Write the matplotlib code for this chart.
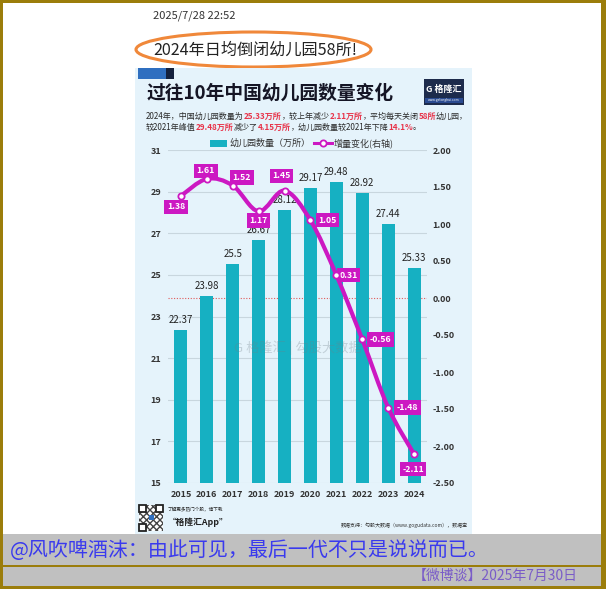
import matplotlib
matplotlib.use('Agg')
import matplotlib.pyplot as plt
from matplotlib.patches import Rectangle, Ellipse, PathPatch
from matplotlib.path import Path
from matplotlib.lines import Line2D
from matplotlib.transforms import blended_transform_factory
from matplotlib.offsetbox import TextArea, HPacker, AnnotationBbox

plt.rcParams['font.family'] = ['Noto Sans CJK SC', 'DejaVu Sans']

# ---------------- data ----------------
years = ['2015', '2016', '2017', '2018', '2019', '2020', '2021', '2022', '2023', '2024']
counts = [22.37, 23.98, 25.5, 26.67, 28.12, 29.17, 29.48, 28.92, 27.44, 25.33]
count_labels = ['22.37', '23.98', '25.5', '26.67', '28.12', '29.17', '29.48', '28.92', '27.44', '25.33']
changes = [1.38, 1.61, 1.52, 1.17, 1.45, 1.05, 0.31, -0.56, -1.48, -2.11]
change_labels = ['1.38', '1.61', '1.52', '1.17', '1.45', '1.05', '0.31', '-0.56', '-1.48', '-2.11']
left_ticks = [15, 17, 19, 21, 23, 25, 27, 29, 31]
right_ticks = [-2.5, -2.0, -1.5, -1.0, -0.5, 0.0, 0.5, 1.0, 1.5, 2.0]

legend_bar = '幼儿园数量（万所）'
legend_line = '增量变化(右轴)'
post_time = '2025/7/28 22:52'
headline = '2024年日均倒闭幼儿园58所!'
chart_title = '过往10年中国幼儿园数量变化'
sub_line1 = [('2024年，中国幼儿园数量为', 'k'), ('25.33万所', 'r'), ('，较上年减少', 'k'),
             ('2.11万所', 'r'), ('，平均每天关闭', 'k'), ('58所', 'r'), ('幼儿园，', 'k')]
sub_line2 = [('较2021年峰值', 'k'), ('29.48万所', 'r'), ('减少了', 'k'), ('4.15万所', 'r'),
             ('，幼儿园数量较2021年下降', 'k'), ('14.1%', 'r'), ('。', 'k')]
comment = '@风吹啤酒沫：由此可见，最后一代不只是说说而已。'
footer = '【微博谈】2025年7月30日'

# label offsets (pixels: dx right, dy down) for the line value boxes
label_offsets = [(-5, 11), (-1, -8), (9, -8), (0, 9), (-3, -15),
                 (17, 0), (12, 0), (18, 0), (19, 0), (-1, 15)]

# ---------------- styles ----------------
W, H = 606, 589
GOLD = '#9b7d0b'
TEAL = '#16b0c2'
MAG = '#cc18c2'
PANEL = '#e5f3fb'
RED = '#e8344a'

fig = plt.figure(figsize=(W / 100, H / 100), dpi=100)
bg = fig.add_axes([0, 0, 1, 1])
bg.set_xlim(0, W)
bg.set_ylim(H, 0)
bg.axis('off')
bg.set_zorder(0)

# frame
bg.add_patch(Rectangle((0, 0), W, H, color=GOLD, lw=0))
bg.add_patch(Rectangle((3, 3), 598, 531, color='white', lw=0))
bg.add_patch(Rectangle((3, 534), 598, 52, color='#c0c0c0', lw=0))
bg.add_patch(Rectangle((3, 565), 598, 1.8, color=GOLD, lw=0))

# header
bg.text(153, 16, post_time, fontsize=8, color='#333333', va='center', ha='left')
bg.add_patch(Ellipse((253.5, 49.5), 235, 35, fc='none', ec='#f0883a', lw=2.2))
bg.text(153, 50, headline, fontsize=11.6, color='#222222', va='center', ha='left')

# chart panel
bg.add_patch(Rectangle((135, 68), 337, 466, color=PANEL, lw=0))
bg.add_patch(Rectangle((138, 68), 28, 11, color='#2f6fc0', lw=0))
bg.add_patch(Rectangle((166, 68), 8, 11, color='#14213d', lw=0))
bg.text(147, 93, chart_title, fontsize=13.5, fontweight='bold', color='#151525', va='center', ha='left')

# logo
bg.add_patch(Rectangle((424, 79), 40, 26, color='#1d2b4c', lw=0))
bg.text(444, 89, 'G 格隆汇', fontsize=6.5, fontweight='bold', color='white', va='center', ha='center')
bg.add_patch(Rectangle((425, 98), 38, 5, color='#2a4a90', lw=0))
bg.text(444, 100.5, 'www.gelonghui.com', fontsize=2.4, color='white', va='center', ha='center')


def rich_line(parts, x, y, size):
    areas = []
    for t, c in parts:
        if c == 'r':
            props = dict(color=RED, fontsize=size, fontweight='bold')
        else:
            props = dict(color='#2a2a2a', fontsize=size)
        areas.append(TextArea(t, textprops=props))
    box = HPacker(children=areas, pad=0, sep=0, align='baseline')
    ab = AnnotationBbox(box, (x, y), xycoords=bg.transData, box_alignment=(0, 0.5),
                        frameon=False, pad=0)
    bg.add_artist(ab)


rich_line(sub_line1, 146, 116, 5.8)
rich_line(sub_line2, 146, 127, 5.8)

# legend
bg.add_patch(Rectangle((210, 139.5), 17, 7, color=TEAL, lw=0))
bg.text(229, 143, legend_bar, fontsize=6.5, color='#333333', va='center', ha='left')
bg.add_line(Line2D([314, 332], [143, 143], color=MAG, lw=2.2))
bg.add_line(Line2D([323], [143], marker='o', ms=4.5, mfc='white', mec=MAG, mew=1.3, color=MAG))
bg.text(334, 143, legend_line, fontsize=6.5, color='#333333', va='center', ha='left')

# bottom of panel
bg.add_patch(Rectangle((139, 505), 24, 26, fc='white', ec='#444444', hatch='xxxxx', lw=0))
for (qx, qy) in [(139, 505), (156, 505), (139, 524)]:
    bg.add_patch(Rectangle((qx, qy), 7, 7, fc='white', ec='#222222', lw=1.3))
bg.add_patch(Rectangle((148.5, 515), 5, 5, fc='#2f6fc0', lw=0))
bg.text(168, 510, '了解更多热门个股，请下载', fontsize=3.3, color='#222222', va='center', ha='left')
bg.text(168, 522, '“格隆汇App”', fontsize=6.3, fontweight='bold', style='italic', color='#222222',
        va='center', ha='left')
bg.text(468, 525, '数据支持：勾股大数据（www.gogudata.com），数据宝', fontsize=3.6, color='#333333',
        va='center', ha='right')

# comment band
bg.text(10, 550, comment, fontsize=14.4, color='#3a3aee', va='center', ha='left')
bg.text(578, 576, footer, fontsize=10, color='#7a5cc8', va='center', ha='right')

# ---------------- chart ----------------
ax = fig.add_axes([168 / W, 1 - 483 / H, 259 / W, 333 / H])
ax.set_zorder(1)
ax.patch.set_visible(False)
x = list(range(len(years)))
ax.bar(x, counts, width=0.5, color=TEAL, zorder=2)
ax.set_xlim(-0.5, len(years) - 0.5)
ax.set_ylim(15, 31)
ax.set_yticks(left_ticks)
ax.set_xticks(x)
ax.set_xticklabels(years)
ax.yaxis.grid(True, color='#c8d6de', lw=0.8)
ax.set_axisbelow(True)
ax.tick_params(axis='y', length=0, pad=5, labelsize=6.5, labelcolor='#333333')
ax.tick_params(axis='x', length=0, pad=5, labelsize=6.5, labelcolor='#333333')
for lab in ax.get_yticklabels() + ax.get_xticklabels():
    lab.set_fontweight('bold')
for s in ax.spines.values():
    s.set_visible(False)

for i, (v, l) in enumerate(zip(counts, count_labels)):
    ax.annotate(l, (i, v), xytext=(0, 7.2), textcoords='offset points', ha='center', va='center',
                fontsize=7, color='#222222', zorder=3)

ax.text(0.5, 0.405, 'G 格隆汇 | 勾股大数据', transform=ax.transAxes, fontsize=9.5,
        color='#6f7f88', alpha=0.3, ha='center', va='center', zorder=4)

ax2 = ax.twinx()
ax2.set_ylim(-2.5, 2.0)
ax2.set_yticks(right_ticks)
ax2.set_yticklabels([f'{t:.2f}' for t in right_ticks])
ax2.tick_params(axis='y', length=0, pad=4, labelsize=6.5, labelcolor='#333333')
for lab in ax2.get_yticklabels():
    lab.set_fontweight('bold')
for s in ax2.spines.values():
    s.set_visible(False)

# zero reference line (behind bars)
ax.add_line(Line2D([0, 1], [0, 0], transform=blended_transform_factory(ax.transAxes, ax2.transData),
                   color='#e05a5a', lw=0.8, ls=(0, (1, 1.5)), zorder=1))

# smooth line through the points (Catmull-Rom -> cubic Bezier)
pts = list(zip(x, changes))
verts = [pts[0]]
codes = [Path.MOVETO]
n = len(pts)
for i in range(n - 1):
    p0 = pts[i - 1] if i > 0 else pts[i]
    p1 = pts[i]
    p2 = pts[i + 1]
    p3 = pts[i + 2] if i + 2 < n else pts[i + 1]
    c1 = (p1[0] + (p2[0] - p0[0]) / 6, p1[1] + (p2[1] - p0[1]) / 6)
    c2 = (p2[0] - (p3[0] - p1[0]) / 6, p2[1] - (p3[1] - p1[1]) / 6)
    verts += [c1, c2, p2]
    codes += [Path.CURVE4] * 3
ax2.add_patch(PathPatch(Path(verts, codes), fc='none', ec=MAG, lw=3, capstyle='round',
                        joinstyle='round', zorder=5))

for i, (v, l) in enumerate(zip(changes, change_labels)):
    dx, dy = label_offsets[i]
    ax2.annotate(l, (i, v), xytext=(dx * 0.72, -dy * 0.72), textcoords='offset points',
                 ha='center', va='center', fontsize=6.3, color='white', fontweight='bold',
                 bbox=dict(boxstyle='square,pad=0.3', fc=MAG, ec='none'), zorder=6)
ax2.plot(x, changes, linestyle='none', marker='o', ms=4.5, mfc='white', mec=MAG, mew=1.3, zorder=7)

fig.savefig('out.png', dpi=100)
